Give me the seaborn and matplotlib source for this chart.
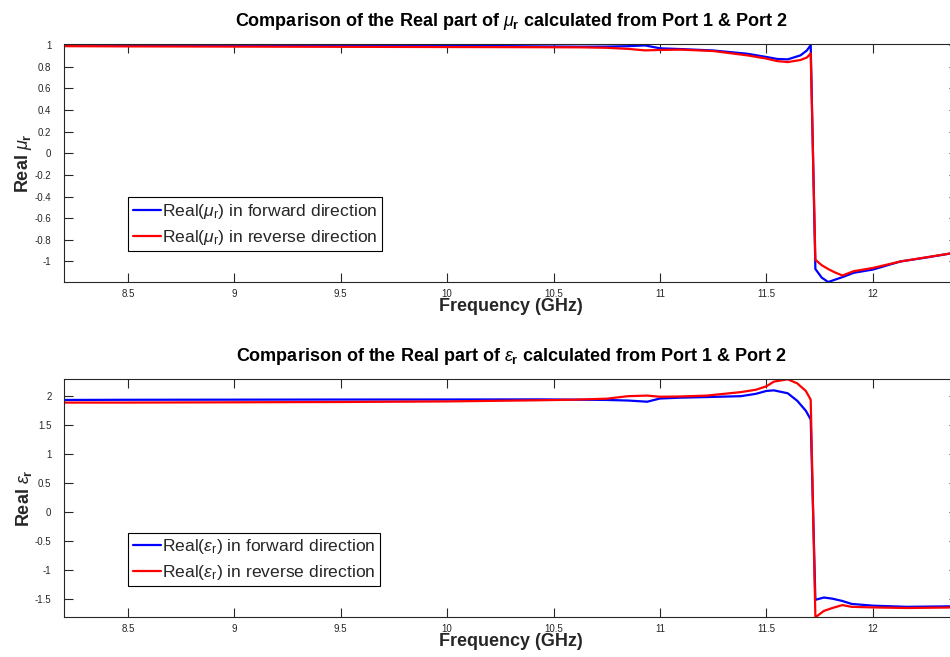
import numpy as np
import pandas as pd
import matplotlib
matplotlib.use("Agg")
import matplotlib.pyplot as plt
import seaborn as sns

# ---------------- data ----------------
freq_mu = [8.2, 8.5, 9.0, 9.5, 10.0, 10.3, 10.5, 10.63, 10.75, 10.85, 10.93, 11.0,
           11.1, 11.25, 11.41, 11.5, 11.55, 11.6, 11.66, 11.69, 11.708, 11.73, 11.76,
           11.79, 11.82, 11.857, 11.91, 12.0, 12.13, 12.25, 12.4]
mu_fwd = [1.005, 1.002, 0.998, 0.995, 0.992, 0.99, 0.987, 0.985, 0.986, 0.99, 0.997, 0.97,
          0.963, 0.95, 0.92, 0.89, 0.872, 0.868, 0.905, 0.95, 1.0, -1.07, -1.15,
          -1.19, -1.17, -1.145, -1.105, -1.075, -1.0, -0.964, -0.915]
mu_rev = [0.99, 0.988, 0.986, 0.984, 0.982, 0.981, 0.98, 0.979, 0.975, 0.965, 0.951, 0.955,
          0.958, 0.945, 0.905, 0.875, 0.852, 0.843, 0.862, 0.885, 0.923, -0.985, -1.035,
          -1.07, -1.10, -1.13, -1.09, -1.06, -1.0, -0.962, -0.915]

freq_eps = [8.2, 8.5, 9.0, 9.5, 10.0, 10.44, 10.6, 10.75, 10.85, 10.94, 11.0, 11.1,
            11.22, 11.38, 11.45, 11.5, 11.535, 11.6, 11.645, 11.685, 11.708, 11.73,
            11.77, 11.81, 11.857, 11.90, 12.0, 12.16, 12.4]
eps_fwd = [1.925, 1.928, 1.93, 1.932, 1.933, 1.935, 1.93, 1.925, 1.915, 1.895, 1.95, 1.965,
           1.975, 1.99, 2.03, 2.08, 2.09, 2.04, 1.91, 1.74, 1.59, -1.51,
           -1.47, -1.49, -1.53, -1.58, -1.61, -1.63, -1.62]
eps_rev = [1.88, 1.88, 1.885, 1.89, 1.9, 1.92, 1.93, 1.947, 1.99, 2.0, 1.98, 1.985,
           2.0, 2.06, 2.1, 2.16, 2.24, 2.28, 2.21, 2.08, 1.93, -1.81,
           -1.70, -1.65, -1.60, -1.63, -1.64, -1.65, -1.64]

xticks = [8.5, 9, 9.5, 10, 10.5, 11, 11.5, 12]
xtick_labels = ["8.5", "9", "9.5", "10", "10.5", "11", "11.5", "12"]
mu_yticks = [-1, -0.8, -0.6, -0.4, -0.2, 0, 0.2, 0.4, 0.6, 0.8, 1]
mu_ytick_labels = ["-1", "-0.8", "-0.6", "-0.4", "-0.2", "0", "0.2", "0.4", "0.6", "0.8", "1"]
eps_yticks = [-1.5, -1, -0.5, 0, 0.5, 1, 1.5, 2]
eps_ytick_labels = ["-1.5", "-1", "-0.5", "0", "0.5", "1", "1.5", "2"]

mu_labels = [r"Real($\mu_{\mathrm{r}}$) in forward direction",
             r"Real($\mu_{\mathrm{r}}$) in reverse direction"]
eps_labels = [r"Real($\epsilon_{\mathrm{r}}$) in forward direction",
              r"Real($\epsilon_{\mathrm{r}}$) in reverse direction"]

# ---------------- style ----------------
sns.set_style("ticks")
plt.rcParams["font.family"] = ["Liberation Sans", "DejaVu Sans"]
plt.rcParams["mathtext.fontset"] = "custom"
plt.rcParams["mathtext.rm"] = "Liberation Sans"
plt.rcParams["mathtext.it"] = "Liberation Sans:italic"
plt.rcParams["mathtext.bf"] = "Liberation Sans:bold"

W, H = 950, 657
fig = plt.figure(figsize=(W / 100, H / 100), dpi=100)
fig.patch.set_facecolor("white")
ax1 = fig.add_axes([64 / W, 1 - 282 / H, 894 / W, 238 / H])
ax2 = fig.add_axes([64 / W, 1 - 617.3 / H, 894 / W, 238 / H])

dark = "#262626"


def draw(ax, freq, fwd, rev, labels, ylim, yticks, yticklabels, title, ylabel):
    df = pd.DataFrame({
        "Frequency": list(freq) + list(freq),
        "Value": list(fwd) + list(rev),
        "Series": [labels[0]] * len(freq) + [labels[1]] * len(freq),
    })
    sns.lineplot(data=df, x="Frequency", y="Value", hue="Series",
                 palette=["#0000ff", "#ff0000"], linewidth=1.6,
                 estimator=None, sort=False, ax=ax)
    ax.set_xlim(8.2, 12.4)
    ax.set_ylim(*ylim)
    ax.set_xticks(xticks)
    ax.set_xticklabels(xtick_labels)
    ax.set_yticks(yticks)
    ax.set_yticklabels(yticklabels)
    ax.tick_params(direction="in", length=6.5, width=0.8, top=True, right=True,
                   labelsize=7, color=dark, labelcolor=dark)
    ax.tick_params(axis="x", pad=5)
    ax.tick_params(axis="y", pad=9)
    for s in ax.spines.values():
        s.set_visible(True)
        s.set_color(dark)
        s.set_linewidth(0.8)
    ax.set_title(title, fontsize=13, fontweight="bold", pad=13, color="black")
    ax.set_xlabel("Frequency (GHz)", fontsize=13, fontweight="bold", color=dark)
    ax.xaxis.set_label_coords(0.5, -0.068)
    ax.set_ylabel(ylabel, fontsize=13, fontweight="bold", color=dark)
    ax.yaxis.set_label_coords(-0.034, 0.5)
    handles, labs = ax.get_legend_handles_labels()
    leg = ax.legend(handles, labs, loc="lower left", bbox_to_anchor=(0.072, 0.13),
                    borderaxespad=0, frameon=True, fancybox=False, edgecolor="black",
                    framealpha=1, fontsize=12.6, handlelength=1.6, handletextpad=0.1,
                    borderpad=0.25, labelspacing=0.4)
    leg.get_frame().set_linewidth(0.8)


draw(ax1, freq_mu, mu_fwd, mu_rev, mu_labels, (-1.19, 1.01), mu_yticks, mu_ytick_labels,
     r"Comparison of the Real part of $\mu_{\mathbf{r}}$ calculated from Port 1 & Port 2",
     r"Real $\mu_{\mathbf{r}}$")
draw(ax2, freq_eps, eps_fwd, eps_rev, eps_labels, (-1.81, 2.28), eps_yticks, eps_ytick_labels,
     r"Comparison of the Real part of $\epsilon_{\mathbf{r}}$ calculated from Port 1 & Port 2",
     r"Real $\epsilon_{\mathbf{r}}$")

fig.savefig("out.png", dpi=100, facecolor="white")
